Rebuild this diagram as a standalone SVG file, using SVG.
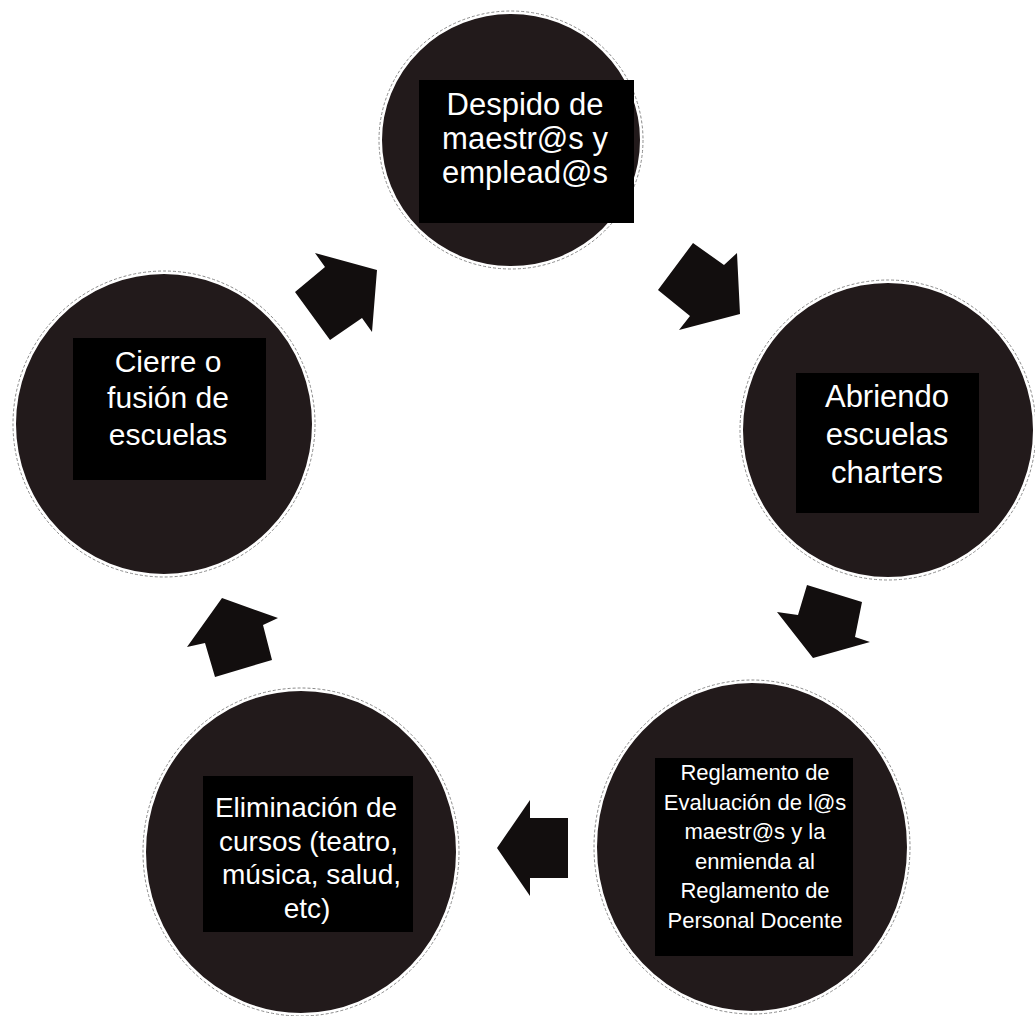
<svg xmlns="http://www.w3.org/2000/svg" width="1035" height="1016" viewBox="0 0 1035 1016">
<style>
.c{fill:#221a1b;stroke:#ffffff;stroke-width:2}
.o{fill:none;stroke:#8a8a8a;stroke-width:1;stroke-dasharray:3 2}
.b{fill:#000}
.t{fill:#ffffff;font-family:"Liberation Sans",Arial,sans-serif;text-anchor:middle}
.a{fill:#120e0e}
</style>
<rect width="1035" height="1016" fill="#fff"/>
<g id="node-despido">
<ellipse class="o" cx="511" cy="140" rx="132" ry="129"/>
<ellipse class="c" cx="511" cy="140" rx="130" ry="127"/>
<rect class="b" x="419" y="80" width="215" height="143"/>
<text class="t" font-size="31"><tspan x="525" y="115">Despido de</tspan><tspan x="525" y="149">maestr@s y</tspan><tspan x="525" y="183">emplead@s</tspan></text>
</g>
<g id="node-abriendo">
<ellipse class="o" cx="888" cy="430" rx="148" ry="150"/>
<ellipse class="c" cx="888" cy="430" rx="146" ry="148"/>
<rect class="b" x="796" y="373" width="183" height="140"/>
<text class="t" font-size="31"><tspan x="887" y="407">Abriendo</tspan><tspan x="887" y="445">escuelas</tspan><tspan x="887" y="483">charters</tspan></text>
</g>
<g id="node-reglamento">
<ellipse class="o" cx="752" cy="847" rx="158" ry="167"/>
<ellipse class="c" cx="752" cy="847" rx="156" ry="165"/>
<rect class="b" x="655" y="758" width="198" height="198"/>
<text class="t" font-size="22"><tspan x="755" y="780">Reglamento de</tspan><tspan x="755" y="809.5">Evaluación  de l@s</tspan><tspan x="755" y="839">maestr@s y la</tspan><tspan x="755" y="868.5">enmienda al</tspan><tspan x="755" y="898">Reglamento de</tspan><tspan x="755" y="927.5">Personal Docente</tspan></text>
</g>
<g id="node-eliminacion">
<ellipse class="o" cx="301" cy="852" rx="158" ry="164"/>
<ellipse class="c" cx="301" cy="852" rx="156" ry="162"/>
<rect class="b" x="203" y="776" width="210" height="156"/>
<text class="t" font-size="28"><tspan x="306" y="817">Eliminación de</tspan><tspan x="308.5" y="850.5">cursos (teatro,</tspan><tspan x="311.5" y="884">música, salud,</tspan><tspan x="307" y="917.5">etc)</tspan></text>
</g>
<g id="node-cierre">
<ellipse class="o" cx="164" cy="424" rx="151" ry="153"/>
<ellipse class="c" cx="164" cy="424" rx="149" ry="151"/>
<rect class="b" x="73" y="338" width="193" height="142"/>
<text class="t" font-size="30"><tspan x="168" y="372">Cierre o</tspan><tspan x="168" y="408">fusión de</tspan><tspan x="168" y="445">escuelas</tspan></text>
</g>
<g id="connectors">
<polygon class="a" points="315,253 325,267 295,292 330,340 362,318 372,332 377,270"/>
<polygon class="a" points="693,243 724,265 737,253 740,314 679,330 690,316 658,290"/>
<polygon class="a" points="807,585 862,602 855,637 870,642 813,658 777,612 798,615"/>
<polygon class="a" points="568,818 530,818 530,800 497,848 530,896 530,878 568,878"/>
<polygon class="a" points="222,598 278,618 263,625 272,660 215,677 205,643 187,647"/>
</g>
</svg>
